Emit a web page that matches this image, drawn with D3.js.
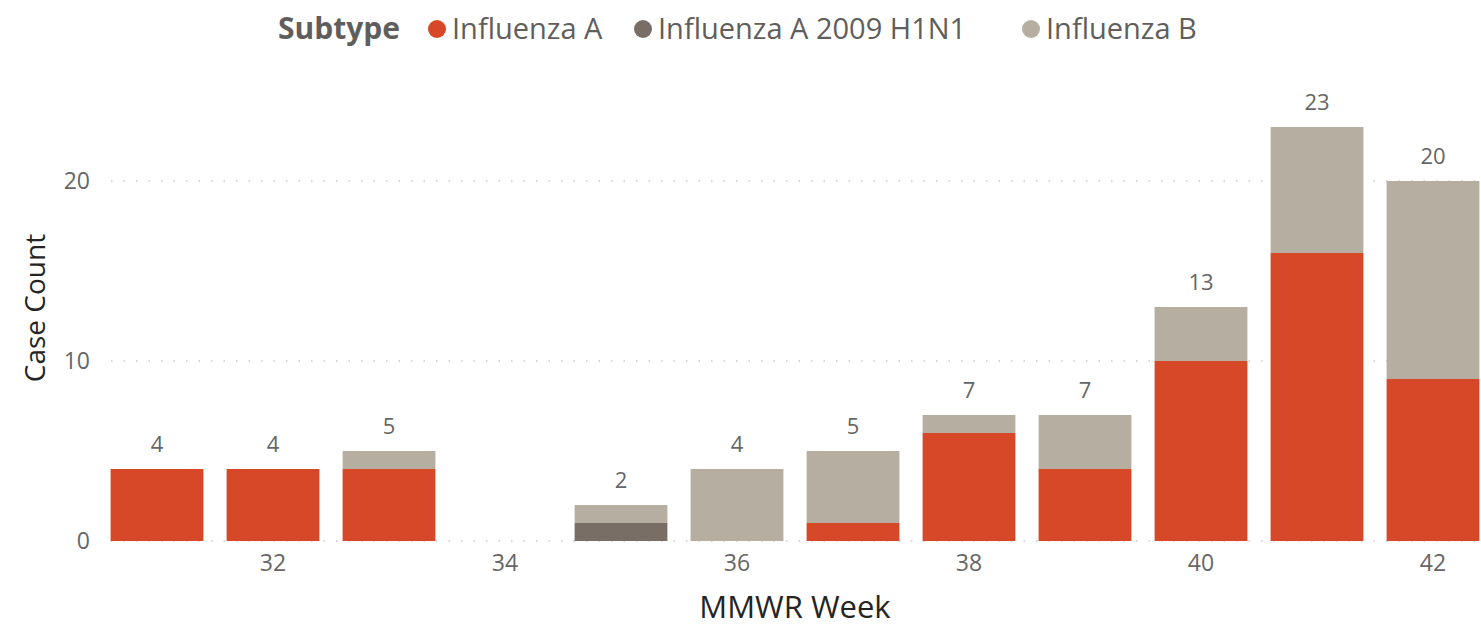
<!DOCTYPE html>
<html>
<head>
    <meta charset="utf-8">
    <script src="https://d3js.org/d3.v7.min.js"></script>
    <style>
        body { margin: 0; background: #fff; }
        text { font-family: "Segoe UI", "Open Sans", sans-serif; }
    </style>
    <title>Case Count by MMWR Week</title>
</head>
<body>
<div id="chart"></div>
<script>
    // data
    const weeks = [31, 32, 33, 34, 35, 36, 37, 38, 39, 40, 41, 42];
    const subtypes = ["Influenza A", "Influenza A 2009 H1N1", "Influenza B"];
    const fluA = [4, 4, 4, 0, 0, 0, 1, 6, 4, 10, 16, 9];
    const fluH1N1 = [0, 0, 0, 0, 1, 0, 0, 0, 0, 0, 0, 0];
    const fluB = [0, 0, 1, 0, 1, 4, 4, 1, 3, 3, 7, 11];
    const yTicks = [0, 10, 20];
    const xTicks = [32, 34, 36, 38, 40, 42];

    const colors = ["#D64827", "#786E65", "#B6AFA1"];

    const width = 1481, height = 628;
    const margin = { left: 111 };

    const table = weeks.map((w, i) => ({
        week: w,
        "Influenza A": fluA[i],
        "Influenza A 2009 H1N1": fluH1N1[i],
        "Influenza B": fluB[i]
    }));
    const stacked = d3.stack().keys(subtypes)(table);

    const svg = d3.select("#chart").append("svg")
        .attr("width", width).attr("height", height);

    const x = d3.scaleBand().domain(weeks).range([99, 1491]).paddingInner(0.2).paddingOuter(0.1);
    const y = d3.scaleLinear().domain([0, 20]).range([541, 181]);

    // gridlines
    svg.append("g").selectAll("line").data(yTicks).join("line")
        .attr("x1", margin.left).attr("x2", width)
        .attr("y1", d => y(d)).attr("y2", d => y(d))
        .attr("stroke", "#c8c8c8").attr("stroke-width", 1.5)
        .attr("stroke-dasharray", "1.5 11");

    // y axis labels
    const yAxis = svg.append("g").attr("transform", "translate(100,0)")
        .call(d3.axisLeft(y).tickValues(yTicks).tickSize(0).tickPadding(10));
    yAxis.select(".domain").remove();
    yAxis.selectAll("text").attr("font-size", 23).attr("fill", "#666")
        .style("font-family", "'Segoe UI', 'Open Sans', sans-serif");

    // x axis labels
    const xAxis = svg.append("g").attr("transform", "translate(0,541)")
        .call(d3.axisBottom(x).tickValues(xTicks).tickSize(0).tickPadding(14));
    xAxis.select(".domain").remove();
    xAxis.selectAll("text").attr("font-size", 23).attr("fill", "#666")
        .style("font-family", "'Segoe UI', 'Open Sans', sans-serif");

    // bars
    svg.append("g").selectAll("g").data(stacked).join("g")
        .attr("fill", (d, i) => colors[i])
        .selectAll("rect").data(d => d.filter(s => s[1] > s[0])).join("rect")
        .attr("x", d => x(d.data.week))
        .attr("width", x.bandwidth())
        .attr("y", d => y(d[1]))
        .attr("height", d => y(d[0]) - y(d[1]));

    // totals
    svg.append("g").selectAll("text").data(table.filter(d => d3.sum(subtypes, k => d[k]) > 0)).join("text")
        .attr("x", d => x(d.week) + x.bandwidth() / 2)
        .attr("y", d => y(d3.sum(subtypes, k => d[k])) - 17)
        .attr("text-anchor", "middle")
        .attr("font-size", 22).attr("fill", "#666")
        .text(d => d3.sum(subtypes, k => d[k]));

    // axis titles
    svg.append("text")
        .attr("transform", "translate(45,308) rotate(-90)")
        .attr("text-anchor", "middle")
        .attr("font-size", 28).attr("fill", "#252423")
        .text("Case Count");
    svg.append("text")
        .attr("x", 795).attr("y", 618)
        .attr("text-anchor", "middle")
        .attr("font-size", 31).attr("fill", "#252423")
        .text("MMWR Week");

    // legend
    const legend = svg.append("g").attr("transform", "translate(278,39)");
    legend.append("text").attr("font-size", 30).attr("font-weight", "bold")
        .attr("fill", "#605E5C").text("Subtype");
    const legendX = [159, 365, 753];
    subtypes.forEach((s, i) => {
        legend.append("circle").attr("cx", legendX[i]).attr("cy", -10).attr("r", 9)
            .attr("fill", colors[i]);
        legend.append("text").attr("x", legendX[i] + 15).attr("font-size", 29)
            .attr("fill", "#605E5C").text(s);
    });
</script>
</body>
</html>
